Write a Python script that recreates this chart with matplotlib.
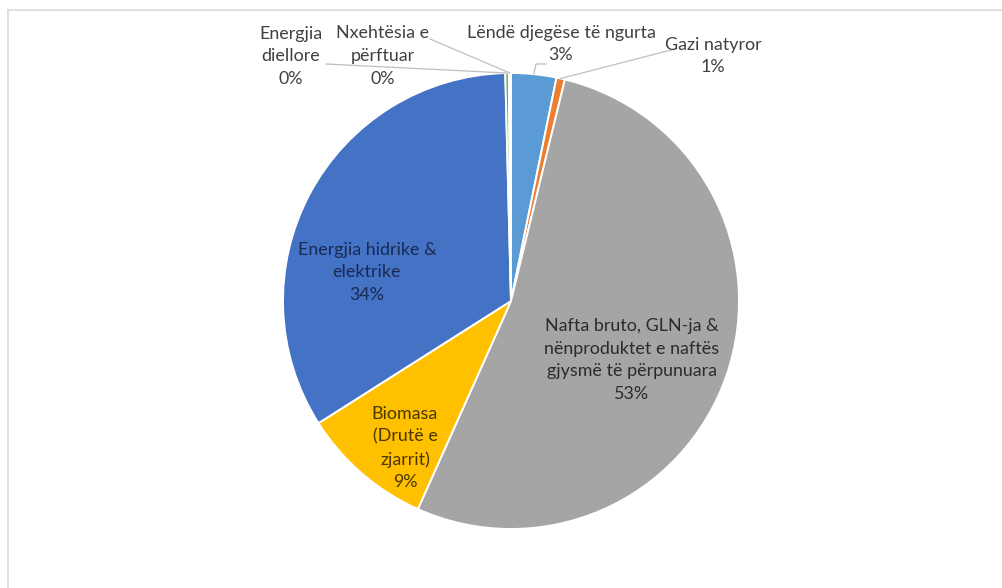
import numpy as np
import matplotlib
matplotlib.use("Agg")
import matplotlib.pyplot as plt
from matplotlib.lines import Line2D

# Energy supply shares (%), listed clockwise from 12 o'clock
categories = [
    "Lëndë djegëse të ngurta",
    "Gazi natyror",
    "Nafta bruto, GLN-ja &\nnënproduktet e naftës\ngjysmë të përpunuara",
    "Biomasa\n(Drutë e\nzjarrit)",
    "Energjia hidrike &\nelektrike",
    "Energjia\ndiellore",
    "Nxehtësia e\npërftuar",
]
values = [3.2, 0.6, 52.9, 9.3, 33.6, 0.25, 0.15]
colors = ["#5B9BD5", "#ED7D31", "#A5A5A5", "#FFC000", "#4472C4", "#70AD47", "#E4ECF5"]

W, H = 1003, 588
fig = plt.figure(figsize=(W / 100, H / 100), dpi=100)
ax = fig.add_axes([0, 0, 1, 1])

plt.rcParams["font.family"] = ["Lato", "DejaVu Sans"]

cx, cy, R = 511, H - 301, 228
wedges, _ = ax.pie(values, colors=colors, startangle=90, counterclock=False,
                   center=(cx, cy), radius=R, frame=True,
                   wedgeprops=dict(edgecolor="white", linewidth=1.4))
ax.set_xlim(0, W)
ax.set_ylim(0, H)
ax.set_aspect("equal")
ax.axis("off")

# chart frame (top and left edges)
ax.add_line(Line2D([8, W], [H - 10, H - 10], color="#d9d9d9", lw=1.2))
ax.add_line(Line2D([8, 8], [H - 10, 0], color="#d9d9d9", lw=1.2))

pct = [f"{round(v):.0f}%" for v in values]

# label anchor positions (x, y from top) and text colours
label_pos = [
    (561, 44), (713, 56), (632, 360), (405, 448), (367, 272), (291, 56), (383, 56),
]
text_col = ["#404040", "#404040", "#2b2b2b", "#4a3600", "#1b2a55", "#404040", "#404040"]

# leader line start points (label side), x, y from top
leader_start = {0: [(546, 64), (536, 64)], 1: [(671, 50)], 5: [(326, 64)], 6: [(430, 39)]}

for i, w in enumerate(wedges):
    x, y = label_pos[i]
    ax.text(x, H - y, f"{categories[i]}\n{pct[i]}", ha="center", va="center",
            fontsize=12.9, color=text_col[i], linespacing=1.5)
    if i in leader_start:
        mid = np.deg2rad((w.theta1 + w.theta2) / 2)
        ex, ey = cx + R * np.cos(mid), cy + R * np.sin(mid)
        pts = leader_start[i]
        xs = [p[0] for p in pts] + [ex]
        ys = [H - p[1] for p in pts] + [ey]
        ax.add_line(Line2D(xs, ys, color="#bfbfbf", lw=0.9))

fig.savefig("out.png", dpi=100, facecolor="white")
